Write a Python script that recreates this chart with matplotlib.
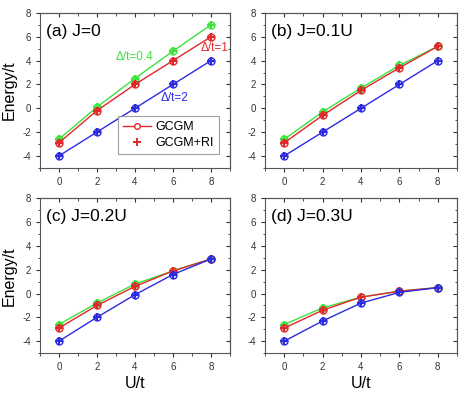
import numpy as np
import matplotlib.pyplot as plt
from matplotlib.ticker import MultipleLocator

plt.rcParams['font.family'] = ['Liberation Sans', 'DejaVu Sans']
plt.rcParams['axes.unicode_minus'] = False

U = [0, 2, 4, 6, 8]

# energies per panel: delta/t = 0.4 (green), 1 (red), 2 (blue)
green_a = [-2.6, 0.1, 2.5, 4.8, 7.0]
red_a = [-2.9, -0.2, 2.0, 4.0, 6.0]
blue_a = [-4.0, -2.0, 0.0, 2.0, 4.0]

green_b = [-2.6, -0.3, 1.7, 3.6, 5.2]
red_b = [-2.9, -0.6, 1.5, 3.4, 5.2]
blue_b = [-4.0, -2.0, 0.0, 2.0, 4.0]

green_c = [-2.6, -0.8, 0.8, 1.9, 2.9]
red_c = [-2.9, -1.0, 0.6, 1.9, 2.9]
blue_c = [-4.0, -2.0, -0.1, 1.6, 2.9]

green_d = [-2.6, -1.2, -0.3, 0.2, 0.5]
red_d = [-2.9, -1.4, -0.3, 0.2, 0.5]
blue_d = [-4.0, -2.3, -0.8, 0.1, 0.5]

titles = ['(a) J=0', '(b) J=0.1U', '(c) J=0.2U', '(d) J=0.3U']
panels = [(green_a, red_a, blue_a), (green_b, red_b, blue_b),
          (green_c, red_c, blue_c), (green_d, red_d, blue_d)]

colors = ['#3de23d', '#e3262b', '#2b2be0']

fig = plt.figure(figsize=(4.74, 3.95), dpi=100)
rects = [[0.084, 0.575, 0.401, 0.392], [0.559, 0.575, 0.405, 0.392],
         [0.084, 0.106, 0.401, 0.392], [0.559, 0.106, 0.405, 0.392]]

for i, (rect, series) in enumerate(zip(rects, panels)):
    ax = fig.add_axes(rect)
    for y, c in zip(series, colors):
        ax.plot(U, y, '-', color=c, lw=1.0, marker='o', ms=5,
                mfc='none', mec=c, mew=1.0)
        ax.plot(U, y, '+', color=c, ms=6, mew=1.6, ls='none')
    ax.set_xlim(-1, 9)
    ax.set_ylim(-5, 8)
    ax.xaxis.set_major_locator(MultipleLocator(2))
    ax.xaxis.set_minor_locator(MultipleLocator(1))
    ax.yaxis.set_major_locator(MultipleLocator(2))
    ax.yaxis.set_minor_locator(MultipleLocator(1))
    ax.tick_params(which='both', direction='out', labelsize=7, colors='#333333')
    ax.tick_params(which='major', length=3)
    ax.tick_params(which='minor', length=1.8)
    # inward ticks on the top and right edges
    ax2 = ax.secondary_xaxis('top')
    ax2.xaxis.set_major_locator(MultipleLocator(2))
    ax2.xaxis.set_minor_locator(MultipleLocator(1))
    ax2.tick_params(which='both', direction='in', labeltop=False, colors='#333333')
    ax2.tick_params(which='major', length=3)
    ax2.tick_params(which='minor', length=1.8)
    ax3 = ax.secondary_yaxis('right')
    ax3.yaxis.set_major_locator(MultipleLocator(2))
    ax3.yaxis.set_minor_locator(MultipleLocator(1))
    ax3.tick_params(which='both', direction='in', labelright=False, colors='#333333')
    ax3.tick_params(which='major', length=3)
    ax3.tick_params(which='minor', length=1.8)
    for a in (ax, ax2, ax3):
        for s in a.spines.values():
            s.set_color('#555555')
            s.set_linewidth(0.8)
    ax.text(0.03, 0.88, titles[i], transform=ax.transAxes, fontsize=12.5,
            va='center', ha='left')
    if i % 2 == 0:
        ax.set_ylabel('Energy/t', fontsize=11.5, labelpad=4)
    if i >= 2:
        ax.set_xlabel('U/t', fontsize=11.5, labelpad=3)
    if i == 0:
        ax.text(4.0, 4.3, 'Δ/t=0.4', color=colors[0], fontsize=8.5,
                ha='center', va='center')
        ax.text(8.2, 5.05, 'Δ/t=1', color=colors[1], fontsize=8.5,
                ha='center', va='center')
        ax.text(6.1, 0.87, 'Δ/t=2', color=colors[2], fontsize=8.5,
                ha='center', va='center')
        h1, = ax.plot([], [], '-', color=colors[1], lw=1.0, marker='o', ms=4,
                      mfc='white', mec=colors[1])
        h2, = ax.plot([], [], '+', color=colors[1], ms=6, mew=1.4, ls='none')
        leg = ax.legend([h1, h2], ['GCGM', 'GCGM+RI'], loc='lower right',
                        fontsize=9, frameon=True, fancybox=False,
                        borderpad=0.4, handlelength=2.2, handletextpad=0.4,
                        labelspacing=0.3, bbox_to_anchor=(0.975, 0.05))
        leg.get_frame().set_edgecolor('#888888')
        leg.get_frame().set_linewidth(0.8)

plt.savefig('out.png', dpi=100)
